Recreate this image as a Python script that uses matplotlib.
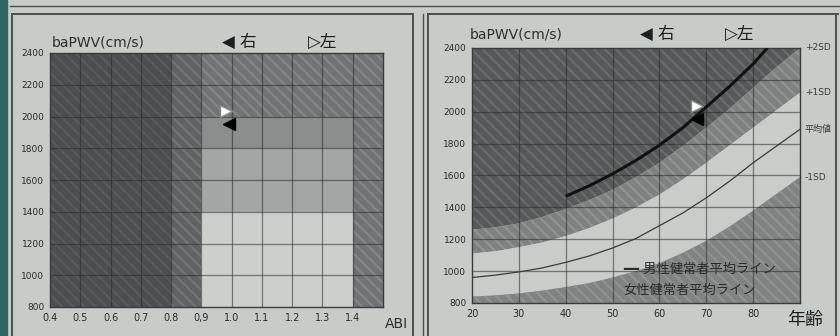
import matplotlib.pyplot as plt
import numpy as np
from matplotlib.patches import Rectangle
from matplotlib.lines import Line2D

plt.rcParams['font.family'] = ['DejaVu Sans', 'Noto Sans CJK JP']
plt.rcParams['hatch.linewidth'] = 1.6

# left chart: ABI vs baPWV zones
abi_ticks = [0.4, 0.5, 0.6, 0.7, 0.8, 0.9, 1.0, 1.1, 1.2, 1.3, 1.4]
abi_labels = ['0.4', '0.5', '0.6', '0.7', '0.8', '0,9', '1.0', '1.1', '1.2', '1.3', '1.4']
pwv_ticks = [800, 1000, 1200, 1400, 1600, 1800, 2000, 2200, 2400]

# patient values (right / left)
abi_right = 0.99
abi_left = 0.98
pwv_right = 1955
pwv_left = 2035
age = 68

# right chart: reference curves
ages = [20, 25, 30, 35, 40, 45, 50, 55, 60, 65, 70, 75, 80, 85, 90]
plus2sd = [1260, 1275, 1300, 1340, 1390, 1445, 1510, 1590, 1680, 1785, 1900, 2020, 2150, 2280, 2400]
plus1sd = [1110, 1125, 1150, 1180, 1220, 1270, 1330, 1400, 1480, 1575, 1680, 1790, 1900, 2010, 2120]
mean_line = [960, 975, 995, 1020, 1055, 1095, 1145, 1205, 1285, 1365, 1460, 1565, 1680, 1785, 1890]
minus1sd = [840, 848, 860, 878, 900, 925, 960, 1000, 1050, 1115, 1190, 1280, 1380, 1485, 1590]
thick_ages = [40, 45, 50, 55, 60, 65, 70, 75, 80, 83]
thick_pwv = [1470, 1535, 1610, 1695, 1790, 1900, 2030, 2160, 2300, 2400]
age_ticks = [20, 30, 40, 50, 60, 70, 80]

bg = '#c6ccc8'
dark = '#55595a'
dark_h = '#686c6c'
mid = '#6f7373'
mid_h = '#828686'
grid_c = '#2a2a2a'
cjk = ['Noto Sans CJK JP', 'DejaVu Sans']

fig = plt.figure(figsize=(8.4, 3.36), dpi=100, facecolor=bg)

# page frames
def fig_line(x0, y0, x1, y1, lw=1.4, c='#4a4e4c'):
    fig.add_artist(Line2D([x0 / 840, x1 / 840], [1 - y0 / 336, 1 - y1 / 336],
                          lw=lw, color=c, transform=fig.transFigure))

fig.add_artist(Rectangle((0, 0), 7 / 840, 1, color='#2e6863', transform=fig.transFigure))
fig_line(10, 6, 840, 6, lw=1.0)
fig_line(12, 14, 413, 14)
fig_line(12, 14, 12, 336)
fig_line(413, 14, 413, 336)
fig_line(423, 14, 423, 336, lw=1.0)
fig_line(428, 14, 838, 14)
fig_line(428, 14, 428, 336)
fig_line(836, 14, 836, 336)

# ---------------- left chart ----------------
ax1 = fig.add_axes([50 / 840, 1 - 307 / 336, 333 / 840, 254 / 336])
ax1.set_xlim(0.4, 1.5)
ax1.set_ylim(800, 2400)

def zone(ax, x0, x1, y0, y1, fc, hc=None):
    ax.add_patch(Rectangle((x0, y0), x1 - x0, y1 - y0, facecolor=fc,
                           edgecolor=hc if hc else fc, lw=0,
                           hatch='\\\\\\' if hc else None, zorder=1))

zone(ax1, 0.4, 0.8, 800, 2400, '#4b4f4f', '#575b5b')
zone(ax1, 0.8, 0.9, 800, 2400, '#5f6363', '#717575')
zone(ax1, 0.9, 1.4, 2000, 2400, mid, mid_h)
zone(ax1, 0.9, 1.4, 1800, 2000, '#8a8e8d')
zone(ax1, 0.9, 1.4, 1400, 1800, '#a2a6a4')
zone(ax1, 0.9, 1.4, 800, 1400, '#cbd0cd')
zone(ax1, 1.4, 1.5, 800, 2400, mid, mid_h)

for x in abi_ticks[1:]:
    ax1.axvline(x, color=grid_c, lw=0.9, alpha=0.55, zorder=2)
for y in pwv_ticks[1:-1]:
    ax1.axhline(y, color=grid_c, lw=0.9, alpha=0.55, zorder=2)

ax1.plot([abi_left], [pwv_left], marker='>', ms=8.5, mfc='white', mec='#888888', ls='none', zorder=5)
ax1.plot([abi_right], [pwv_right], marker='<', ms=8.5, mfc='black', mec='black', ls='none', zorder=5)

ax1.set_xticks(abi_ticks)
ax1.set_xticklabels(abi_labels, fontsize=7, color='#2a2a2a')
ax1.set_yticks(pwv_ticks)
ax1.set_yticklabels([str(v) for v in pwv_ticks], fontsize=6.5, color='#2a2a2a')
ax1.tick_params(length=0, pad=4)
for s in ax1.spines.values():
    s.set_color('#3a3a3a')
    s.set_linewidth(1.0)

fig.text(52 / 840, 1 - 42 / 336, 'baPWV(cm/s)', fontsize=10, color='#2e2e2e', va='center')
fig.text(222 / 840, 1 - 42 / 336, '◀ 右', fontsize=12, color='#1e1e1e', va='center')
fig.text(308 / 840, 1 - 42 / 336, '▷左', fontsize=12, color='#1e1e1e', va='center')
fig.text(385 / 840, 1 - 324 / 336, 'ABI', fontsize=10, color='#2e2e2e', va='center')

# ---------------- right chart ----------------
ax2 = fig.add_axes([472 / 840, 1 - 303 / 336, 328 / 840, 255 / 336])
ax2.set_xlim(20, 90)
ax2.set_ylim(800, 2400)
ax2.set_facecolor('#c9cecb')

ax2.fill_between(ages, plus2sd, 2400, facecolor=dark, edgecolor=dark_h, lw=0, hatch='\\\\\\', zorder=1)
ax2.fill_between(ages, plus1sd, plus2sd, facecolor='#7d8180', edgecolor='#8f9392', lw=0, hatch='\\\\\\', zorder=1)
ax2.fill_between(ages, minus1sd, plus1sd, facecolor='#c8cdca', lw=0, zorder=1)
ax2.fill_between(ages, 800, minus1sd, facecolor='#7f8382', edgecolor='#8e9291', lw=0, hatch='\\\\\\', zorder=1)

for x in age_ticks[1:]:
    ax2.axvline(x, color=grid_c, lw=0.9, alpha=0.55, zorder=2)
for y in pwv_ticks[1:-1]:
    ax2.axhline(y, color=grid_c, lw=0.9, alpha=0.55, zorder=2)

ax2.plot(ages, mean_line, color='#3a3a3a', lw=0.9, zorder=3)
ax2.plot(thick_ages, thick_pwv, color='#111111', lw=2.2, zorder=4, solid_capstyle='butt')

ax2.plot([age], [pwv_left], marker='>', ms=8.5, mfc='white', mec='#888888', ls='none', zorder=5)
ax2.plot([age], [pwv_right], marker='<', ms=8.5, mfc='black', mec='black', ls='none', zorder=5)

ax2.set_xticks(age_ticks)
ax2.set_xticklabels([str(a) for a in age_ticks], fontsize=7, color='#2a2a2a')
ax2.set_yticks(pwv_ticks)
ax2.set_yticklabels([str(v) for v in pwv_ticks], fontsize=6.5, color='#2a2a2a')
ax2.tick_params(length=0, pad=4)
for s in ax2.spines.values():
    s.set_color('#3a3a3a')
    s.set_linewidth(1.0)

side = [(2400, '+2SD'), (plus1sd[-1], '+1SD'), (mean_line[-1], '平均値'), (minus1sd[-1], '-1SD')]
for yv, t in side:
    ax2.text(1.015, (yv - 800) / 1600, t, transform=ax2.transAxes, fontsize=6.5,
             color='#3a3a3a', va='center', ha='left', clip_on=False)

# legend text: thick dash from DejaVu, the rest falls back to the CJK font
ax2.text(0.46, 0.13, '━━ 男性健常者平均ライン', transform=ax2.transAxes, fontsize=9.5,
         color='#2a2a2a', va='center', family=['DejaVu Sans', 'Noto Sans CJK JP'])
ax2.text(0.46, 0.05, '女性健常者平均ライン', transform=ax2.transAxes, fontsize=9.5,
         color='#2a2a2a', va='center', family=cjk)

fig.text(470 / 840, 1 - 34 / 336, 'baPWV(cm/s)', fontsize=10, color='#2e2e2e', va='center')
fig.text(640 / 840, 1 - 34 / 336, '◀ 右', fontsize=12, color='#1e1e1e', va='center')
fig.text(725 / 840, 1 - 34 / 336, '▷左', fontsize=12, color='#1e1e1e', va='center')
fig.text(787 / 840, 1 - 320 / 336, '年齢', fontsize=13, color='#1e1e1e', va='center', family=cjk)

fig.savefig('out.png', dpi=100, facecolor=bg)
